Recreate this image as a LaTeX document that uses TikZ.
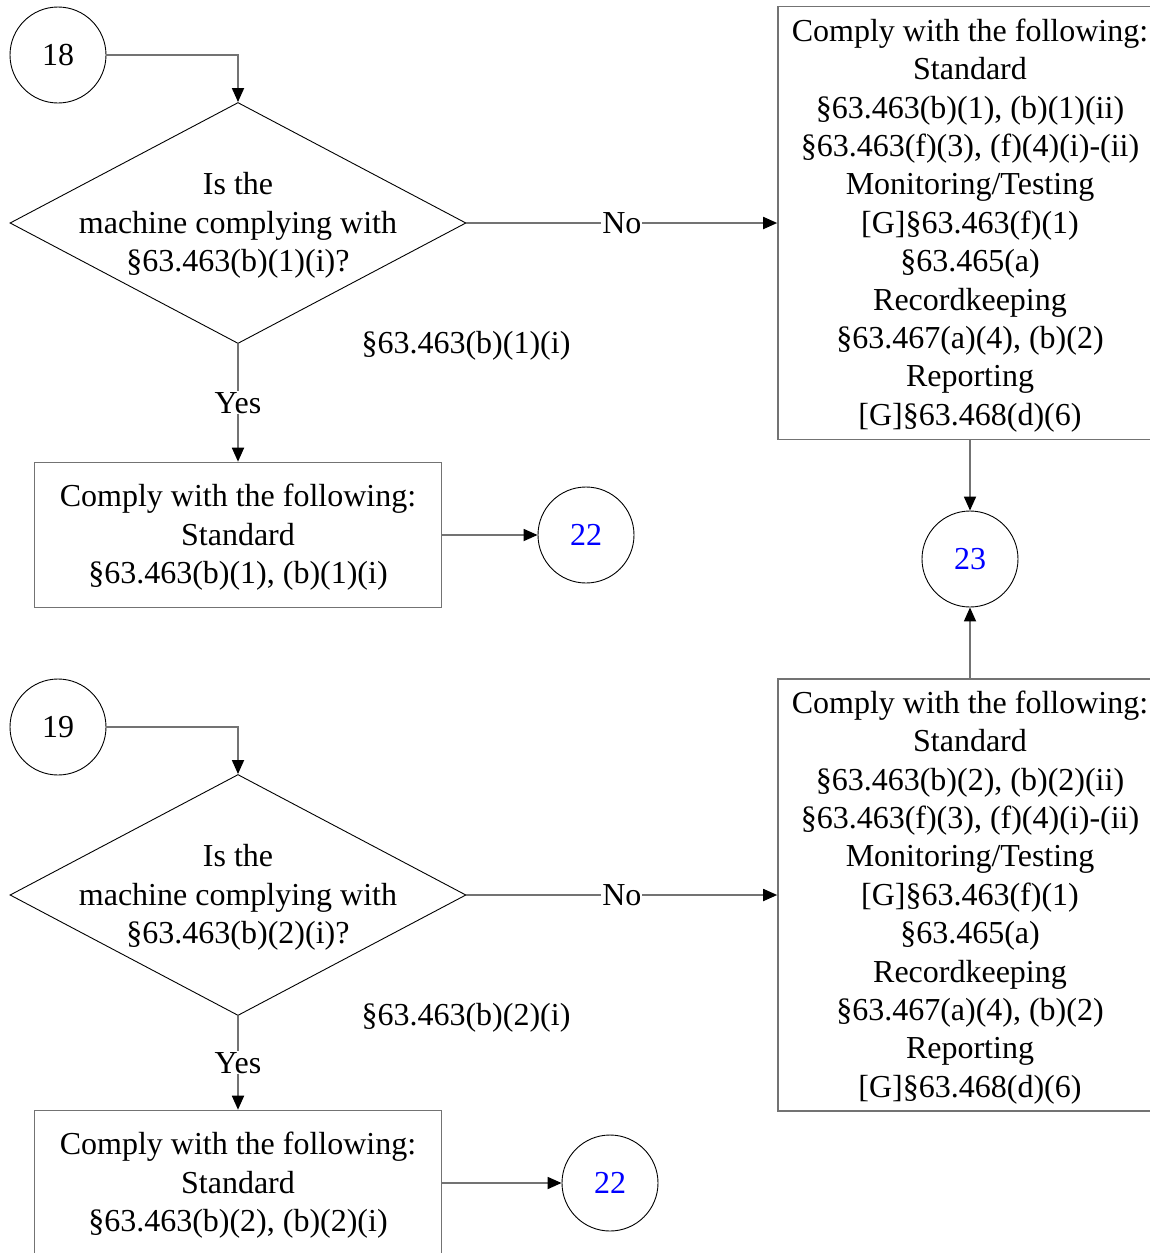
\documentclass[tikz,border=0pt]{standalone}
\usepackage{fontspec}
\setmainfont{Liberation Serif}
\usetikzlibrary{arrows.meta,positioning,shapes.geometric}

\tikzset{
  onpage/.style={circle,draw=black,line width=0.9pt,minimum size=96pt,inner sep=0pt},
  rule/.style={draw=black!55,line width=1.6pt,inner sep=0pt},
  txt/.style={align=center,inner sep=0pt,yshift=-2.5pt},
  decision/.style={diamond,draw=black,line width=0.9pt,minimum width=456pt,minimum height=241pt,inner sep=0pt},
  flow/.style={draw=black!55,line width=1.8pt,-{Triangle[length=14pt,width=12pt,color=black]}},
  lbl/.style={fill=white,inner sep=1pt}
}

\begin{document}
\begin{tikzpicture}[x=1pt,y=-1pt,font=\fontsize{32}{38.4}\selectfont]

    \useasboundingbox (0,0) rectangle (1150,1253);

    % upper part
    \node[onpage] (c18) at (58,55) {18};
    \node[decision] (d1) at (238,223) {};
    \node[txt] (q1) at (d1) {Is the\\machine complying with\\§63.463(b)(1)(i)?};
    \node[txt] (s1) at (466,343) {§63.463(b)(1)(i)};
    \node[rule,minimum width=407pt,minimum height=145pt] (b1) at (238,535) {};
    \node[txt] (b1t) at (b1) {Comply with the following:\\Standard\\§63.463(b)(1), (b)(1)(i)};
    \node[onpage,text=blue] (c22a) at (586,535) {22};
    \node[rule,minimum width=384pt,minimum height=433pt] (r1) at (970,223) {};
    \node[txt] (r1t) at (r1)
        {Comply with the following:\\Standard\\§63.463(b)(1), (b)(1)(ii)\\§63.463(f)(3), (f)(4)(i)-(ii)\\Monitoring/Testing\\{[G]}§63.463(f)(1)\\§63.465(a)\\Recordkeeping\\§63.467(a)(4), (b)(2)\\Reporting\\{[G]}§63.468(d)(6)};
    \node[onpage,text=blue] (c23) at (970,559) {23};

    % lower part
    \node[onpage] (c19) at (58,727) {19};
    \node[decision] (d2) at (238,895) {};
    \node[txt] (q2) at (d2) {Is the\\machine complying with\\§63.463(b)(2)(i)?};
    \node[txt] (s2) at (466,1015) {§63.463(b)(2)(i)};
    \node[rule,minimum width=407pt,minimum height=145pt] (b2) at (238,1183) {};
    \node[txt] (b2t) at (b2) {Comply with the following:\\Standard\\§63.463(b)(2), (b)(2)(i)};
    \node[onpage,text=blue] (c22b) at (610,1183) {22};
    \node[rule,minimum width=384pt,minimum height=432pt] (r2) at (970,895) {};
    \node[txt] (r2t) at (r2)
        {Comply with the following:\\Standard\\§63.463(b)(2), (b)(2)(ii)\\§63.463(f)(3), (f)(4)(i)-(ii)\\Monitoring/Testing\\{[G]}§63.463(f)(1)\\§63.465(a)\\Recordkeeping\\§63.467(a)(4), (b)(2)\\Reporting\\{[G]}§63.468(d)(6)};

    % connectors
    \draw[flow] (c18) -| (d1);
    \draw[flow] (d1) -- node[lbl] {No} (r1);
    \draw[flow] (d1) -- node[lbl] {Yes} (b1);
    \draw[flow] (b1) -- (c22a);
    \draw[flow] (r1) -- (c23);
    \draw[flow] (r2) -- (c23);
    \draw[flow] (c19) -| (d2);
    \draw[flow] (d2) -- node[lbl] {No} (r2);
    \draw[flow] (d2) -- node[lbl] {Yes} (b2);
    \draw[flow] (b2) -- (c22b);

\end{tikzpicture}
\end{document}
